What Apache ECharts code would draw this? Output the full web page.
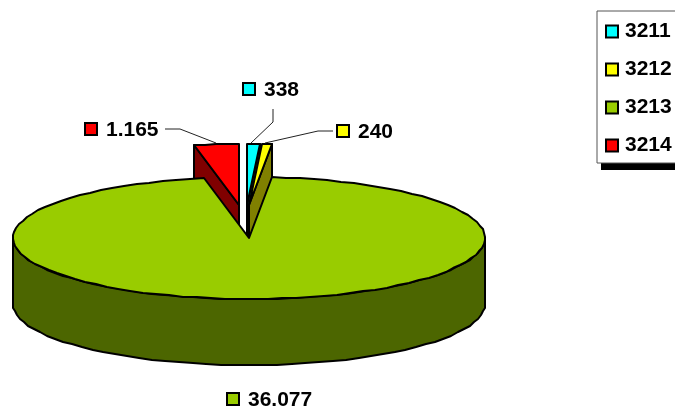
<!DOCTYPE html>
<html><head><meta charset="utf-8">
<style>html,body{margin:0;padding:0;background:#fff}#c{width:675px;height:408px}</style>
<script src="https://cdn.jsdelivr.net/npm/echarts@6/dist/echarts.min.js"></script>
</head><body><div id="c"></div>
<script>
const categories = ['3211', '3212', '3213', '3214'];
const values = [338, 240, 36077, 1165];
const valueLabels = ['338', '240', '36.077', '1.165'];
const topColors = ['#00FFFF', '#FFFF00', '#99CC00', '#FF0000'];
const sideColors = ['#008080', '#808000', '#4C6600', '#800000'];

// pie projection
const pie = {cx: 249, cy: 238, rx: 236, ry: 61, depth: 66};
const explode = [[-2, -33], [0, -33], [0, 0], [-10, -33]];
const labelPos = [[243, 83], [337, 125], [227, 393], [85, 123]];
const leaders = [
  [[273, 109], [273, 122], [251, 143]],
  [[333, 131], [318, 131], [265, 143]],
  null,
  [[165, 129], [180, 129], [216, 143]]
];
const FONT = 'bold 21px "Liberation Sans", Arial, sans-serif';
const total = values.reduce((a, b) => a + b, 0);

function pt(deg, dx, dy, dz) {
  const t = deg * Math.PI / 180;
  return [Math.round(pie.cx + dx + pie.rx * Math.sin(t)),
          Math.round(pie.cy + dy + dz - pie.ry * Math.cos(t))];
}
function arc(a, b, dx, dy, dz) {
  const out = [], step = 3.5, n = Math.max(1, Math.ceil(Math.abs(b - a) / step));
  for (let i = 0; i <= n; i++) out.push(pt(a + (b - a) * i / n, dx, dy, dz));
  return out;
}
function poly(points, fill) {
  return {type: 'polygon', shape: {points},
    style: {fill, stroke: '#000', lineWidth: 2, lineJoin: 'round'}};
}
function makeRender(idx) {
  return function (params, api) {
    const v = api.value(0);
    let start = 0;
    for (let i = 0; i < idx; i++) start += values[i] / total * 360;
    const end = start + v / total * 360;
    const [dx, dy] = explode[idx];
    const apex = [pie.cx + dx, pie.cy + dy];
    const apexLow = [apex[0], apex[1] + pie.depth];
    const kids = [];
    if (idx === 2) {
      const top = arc(90, 270, dx, dy, 0);
      const bot = arc(270, 90, dx, dy, pie.depth);
      kids.push(poly(top.concat(bot), sideColors[idx]));
    } else {
      const faceAngle = idx === 3 ? start : end;
      const o = pt(faceAngle, dx, dy, 0), oLow = pt(faceAngle, dx, dy, pie.depth);
      kids.push(poly([apex, o, oLow, apexLow], sideColors[idx]));
    }
    kids.push(poly([apex].concat(arc(start, end, dx, dy, 0)), topColors[idx]));
    const lp = labelPos[idx];
    kids.push({type: 'rect', shape: {x: lp[0], y: lp[1], width: 12, height: 12},
      style: {fill: topColors[idx], stroke: '#000', lineWidth: 2}});
    kids.push({type: 'text', style: {text: valueLabels[idx], x: lp[0] + 21, y: lp[1] + 7,
      font: FONT, fill: '#000', verticalAlign: 'middle', align: 'left'}});
    if (leaders[idx]) kids.push({type: 'polyline', shape: {points: leaders[idx]},
      style: {fill: 'none', stroke: '#222', lineWidth: 1}});
    return {type: 'group', children: kids};
  };
}

const chart = echarts.init(document.getElementById('c'), null, {renderer: 'canvas'});
chart.setOption({
  animation: false,
  backgroundColor: '#fff',
  legend: {
    orient: 'vertical', left: 597, top: 11, selectedMode: false,
    padding: [10, 20, 7, 8], itemGap: 17, itemWidth: 12, itemHeight: 12,
    borderColor: '#555', borderWidth: 1, backgroundColor: '#fff',
    textStyle: {fontWeight: 'bold', fontSize: 21, color: '#000',
      fontFamily: '"Liberation Sans", Arial, sans-serif', padding: [0, 0, 0, 2]},
    data: categories.map((name, i) => ({name, icon: 'rect',
      itemStyle: {color: topColors[i], borderColor: '#000', borderWidth: 2}}))
  },
  graphic: [{type: 'rect', z: -1, shape: {x: 601, y: 163, width: 74, height: 7}, style: {fill: '#000'}}],
  series: categories.map((name, i) => ({
    type: 'custom', name, coordinateSystem: 'none', silent: true,
    z: i === 2 ? 5 : 3,
    itemStyle: {color: topColors[i]},
    renderItem: makeRender(i),
    data: [[values[i]]]
  }))
});
</script></body></html>
